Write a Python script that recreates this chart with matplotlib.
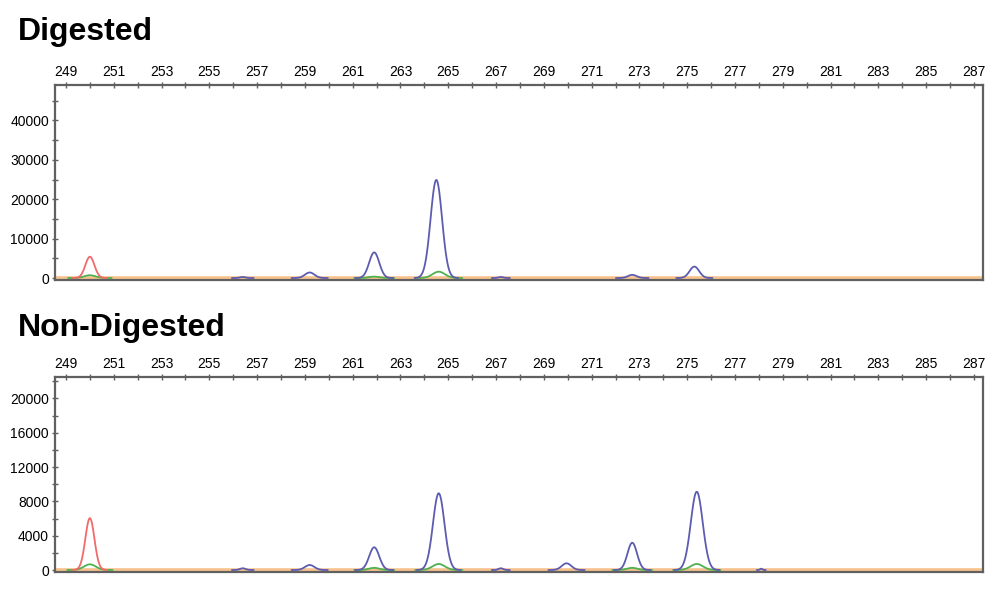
import numpy as np
import matplotlib.pyplot as plt
from matplotlib.ticker import MultipleLocator

plt.rcParams['font.family'] = ['Liberation Sans', 'DejaVu Sans']

# peak tables (size in bp, height in RFU)
dig_blue_pos = [256.4, 259.2, 261.9, 264.5, 267.2, 272.7, 275.3]
dig_blue_height = [250, 1400, 6500, 24900, 250, 800, 2900]
dig_blue_width = [0.12, 0.2, 0.21, 0.24, 0.10, 0.18, 0.2]
dig_red_pos = [250.0]
dig_red_height = [5400]
dig_red_width = [0.19]
dig_green_pos = [250.0, 261.9, 264.6]
dig_green_height = [700, 350, 1600]
dig_green_width = [0.24, 0.22, 0.26]

non_blue_pos = [256.4, 259.2, 261.9, 264.6, 267.2, 269.95, 272.7, 275.4, 278.1]
non_blue_height = [200, 580, 2650, 8950, 200, 780, 3180, 9130, 150]
non_blue_width = [0.12, 0.2, 0.21, 0.24, 0.10, 0.2, 0.2, 0.25, 0.05]
non_red_pos = [250.0]
non_red_height = [6050]
non_red_width = [0.19]
non_green_pos = [250.0, 261.9, 264.6, 272.7, 275.4]
non_green_height = [660, 250, 700, 250, 700]
non_green_width = [0.25, 0.22, 0.26, 0.22, 0.26]

x_ticks = list(range(249, 288, 2))

BLUE = '#5c5cb0'
RED = '#f26a6a'
GREEN = '#4fb04f'
ORANGE = '#f8c28c'
FRAME = '#606060'


def draw_peaks(ax, pos, height, width, color, lw=1.3):
    # each peak drawn as a short gaussian segment, like the trace viewer does
    for p, h, w in zip(pos, height, width):
        xs = np.linspace(p - 3.8 * w, p + 3.8 * w, 80)
        ys = h * np.exp(-0.5 * ((xs - p) / w) ** 2)
        ax.plot(xs, ys, color=color, lw=lw, solid_capstyle='round', zorder=3)


def setup_axes(ax, ymax, ymin, major, minor):
    ax.set_xlim(248.54, 287.38)
    ax.set_ylim(ymin, ymax)
    ax.axhline(0, color=ORANGE, lw=2.6, zorder=2)
    for s in ax.spines.values():
        s.set_color(FRAME)
        s.set_linewidth(1.6)
    ax.xaxis.set_ticks_position('top')
    ax.set_xticks(x_ticks)
    ax.xaxis.set_minor_locator(MultipleLocator(1))
    ax.yaxis.set_major_locator(MultipleLocator(major))
    ax.yaxis.set_minor_locator(MultipleLocator(minor))
    ax.set_yticks([t for t in ax.get_yticks() if 0 <= t <= ymax])
    ax.tick_params(axis='both', which='both', direction='inout', color=FRAME,
                   width=1.0, length=4.5, labelsize=10, labelcolor='black')
    ax.tick_params(axis='x', which='both', pad=2)
    ax.tick_params(axis='y', which='both', pad=2)


fig = plt.figure(figsize=(10, 5.93), dpi=100)
ax1 = fig.add_axes([0.055, 0.5278, 0.928, 0.3288])
ax2 = fig.add_axes([0.055, 0.0354, 0.928, 0.3288])

setup_axes(ax1, 48985, -508, 10000, 5000)
draw_peaks(ax1, dig_green_pos, dig_green_height, dig_green_width, GREEN)
draw_peaks(ax1, dig_red_pos, dig_red_height, dig_red_width, RED)
draw_peaks(ax1, dig_blue_pos, dig_blue_height, dig_blue_width, BLUE)

setup_axes(ax2, 22500, -233, 4000, 2000)
draw_peaks(ax2, non_green_pos, non_green_height, non_green_width, GREEN)
draw_peaks(ax2, non_red_pos, non_red_height, non_red_width, RED)
draw_peaks(ax2, non_blue_pos, non_blue_height, non_blue_width, BLUE)

fig.text(0.018, 1 - 40 / 593, 'Digested', fontsize=23, fontweight='bold',
         va='baseline', ha='left')
fig.text(0.018, 1 - 336 / 593, 'Non-Digested', fontsize=23, fontweight='bold',
         va='baseline', ha='left')

fig.savefig('out.png', dpi=100)
